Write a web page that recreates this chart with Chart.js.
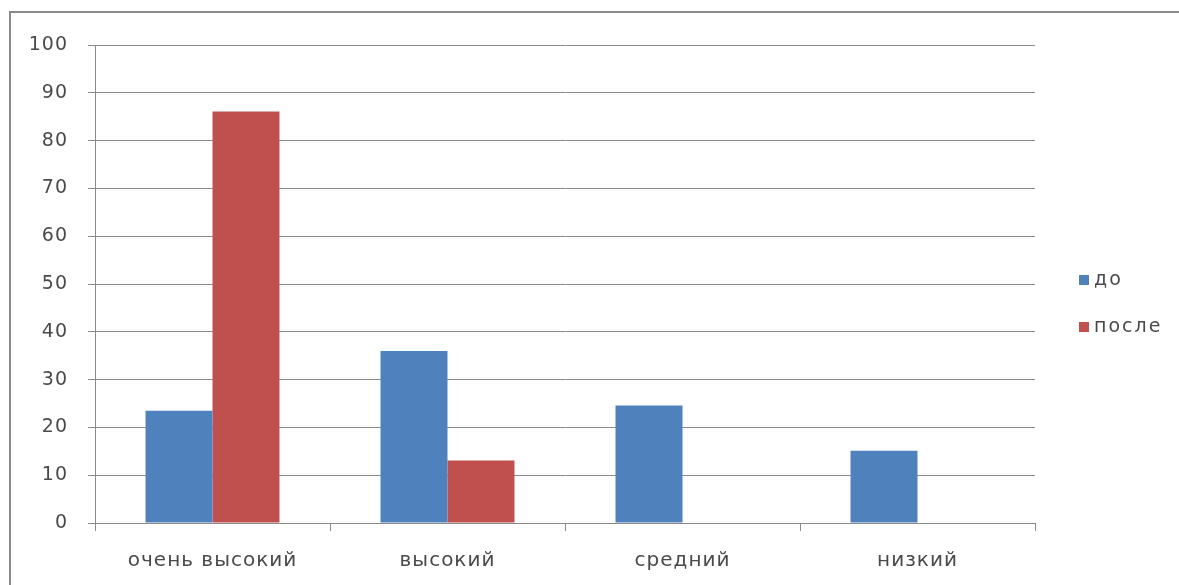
<!DOCTYPE html>
<html>
<head>
<meta charset="utf-8">
<script src="https://cdn.jsdelivr.net/npm/chart.js@4"></script>
<style>
  html, body { margin:0; padding:0; background:#fff; overflow:hidden; }
  #wrap { position:relative; width:1179px; height:585px; overflow:hidden; }
  #frame { position:absolute; left:9px; top:11px; width:1170px; height:574px; border-top:2px solid #8a8a8a; border-left:2px solid #8a8a8a; box-sizing:border-box; }
  canvas { position:absolute; left:0; top:0; }
</style>
</head>
<body>
<div id="wrap">
  <div id="frame"></div>
  <canvas id="c" width="1179" height="585"></canvas>
</div>
<script>
const categories = ["очень высокий", "высокий", "средний", "низкий"];
const seriesNames = ["до", "после"];
const beforeValues = [23.5, 36, 24.6, 15.1];
const afterValues = [86.1, 13.1, 0, 0];
const yTicks = [0, 10, 20, 30, 40, 50, 60, 70, 80, 90, 100];

const colors = ["#4F81BD", "#C0504D"];
const textColor = "#4a4a4a";
const fontFamily = "'DejaVu Sans', sans-serif";

const spacingPlugin = {
  id: 'letterSpacing',
  beforeDraw(chart) { chart.ctx.letterSpacing = '1px'; }
};

const legendPlugin = {
  id: 'sideLegend',
  afterDraw(chart) {
    const ctx = chart.ctx;
    const positions = [280, 327];
    ctx.save();
    chart.data.datasets.forEach((ds, i) => {
      const y = positions[i];
      ctx.fillStyle = ds.backgroundColor;
      ctx.fillRect(1079, y - 5, 10, 10);
      ctx.fillStyle = textColor;
      ctx.font = "19px " + fontFamily;
      ctx.letterSpacing = '2px';
      ctx.textBaseline = "middle";
      ctx.textAlign = "left";
      ctx.fillText(ds.label, 1094, y);
    });
    ctx.restore();
  }
};

new Chart(document.getElementById('c'), {
  type: 'bar',
  data: {
    labels: categories,
    datasets: [
      { label: seriesNames[0], data: beforeValues, backgroundColor: colors[0] },
      { label: seriesNames[1], data: afterValues, backgroundColor: colors[1] }
    ]
  },
  options: {
    responsive: false,
    animation: false,
    devicePixelRatio: 1,
    layout: { padding: { left: 20, right: 144, top: 45, bottom: 0 } },
    datasets: { bar: { categoryPercentage: 0.57, barPercentage: 1.0 } },
    plugins: { legend: { display: false }, tooltip: { enabled: false } },
    scales: {
      x: {
        offset: true,
        grid: { display: true, drawOnChartArea: false, drawTicks: true, tickLength: 8, color: '#8a8a8a', offset: true },
        border: { display: true, color: '#8a8a8a', width: 1 },
        ticks: { color: textColor, font: { family: fontFamily, size: 20 }, padding: 18 },
        afterFit(s) { s.height = 62; }
      },
      y: {
        min: 0, max: 100,
        afterBuildTicks(s) { s.ticks = yTicks.map(v => ({ value: v })); },
        grid: { color: '#8a8a8a', tickLength: 7, drawTicks: true },
        border: { display: true, color: '#8a8a8a', width: 1 },
        ticks: { color: textColor, font: { family: fontFamily, size: 19 }, padding: 20 },
        afterFit(s) { s.width = 75; }
      }
    }
  },
  plugins: [spacingPlugin, legendPlugin]
});
</script>
</body>
</html>
